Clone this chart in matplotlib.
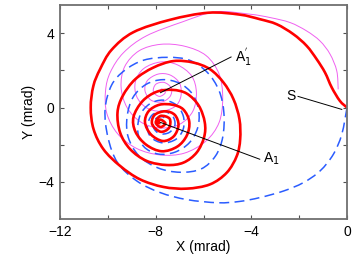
import numpy as np
import matplotlib
matplotlib.use("Agg")
import matplotlib.pyplot as plt
from matplotlib.path import Path
from matplotlib.patches import PathPatch

plt.rcParams['font.family'] = ['Liberation Sans', 'DejaVu Sans']

# trajectory points (x, y in mrad)
red_x = [0.0, -0.3, -0.64, -0.92, -1.27, -1.69, -2.25, -2.94, -3.64, -4.5, -5.8, -7.4,
         -8.94, -9.85, -10.33, -10.61, -10.72, -10.6, -10.19, -9.49, -8.66, -7.68, -6.7,
         -5.73, -5.03, -4.61, -4.47, -4.5, -4.75, -5.17, -5.73, -6.43, -7.26,
         -8.1, -8.86, -9.38, -9.6, -9.49, -9.07, -8.38, -7.54, -6.84, -6.29, -5.98, -5.95,
         -6.2, -6.7, -7.3,
         -7.96, -8.55, -8.93, -8.85, -8.4, -7.75, -7.1, -6.7, -6.6, -6.85, -7.3, -7.85,
         -8.3, -8.45, -8.2, -7.7, -7.25, -7.05, -7.2, -7.6,
         -8.05, -8.15, -7.8, -7.45, -7.42, -7.8, -8.0, -7.8, -7.6, -7.8, -7.9, -7.8]
red_y = [0.0, 0.36, 1.08, 1.88, 2.6, 3.32, 3.95, 4.48, 4.75, 5.0, 5.1, 4.72,
         4.05, 3.1, 2.06, 1.16, 0.0, -1.17, -2.24, -3.14, -3.86, -4.27, -4.36,
         -4.13, -3.5, -2.6, -1.7, -0.63, 0.45, 1.35, 2.06, 2.42, 2.5,
         2.15, 1.52, 0.63, -0.27, -1.35, -2.24, -2.87, -3.09, -2.96, -2.42, -1.6, -0.8,
         0.1, 0.75, 0.95,
         0.85, 0.35, -0.5, -1.3, -2.0, -2.35, -2.1, -1.5, -0.75, -0.1, 0.15, 0.15,
         -0.2, -0.8, -1.45, -1.8, -1.55, -0.95, -0.4, -0.2,
         -0.4, -0.9, -1.3, -1.1, -0.6, -0.45, -0.8, -1.05, -0.85, -0.65, -0.8, -0.85]

blue_x = [0.0, -0.22, -0.57, -1.13, -1.83, -2.66, -3.64, -4.5, -5.4, -6.7, -7.82, -8.79,
          -9.6, -10.0, -10.12, -9.85, -9.3, -8.5, -7.5, -6.6, -5.85, -5.35, -5.15, -5.2,
          -5.5, -6.1, -6.98, -7.9,
          -8.7, -9.15, -9.2, -8.95, -8.4, -7.7, -7.0, -6.45, -6.2, -6.25, -6.6, -7.2, -7.9,
          -8.5, -8.75, -8.65, -8.25, -7.7, -7.15, -6.85, -6.85, -7.15, -7.7,
          -8.2, -8.35, -8.15, -7.7, -7.3, -7.2, -7.45, -7.85, -8.1, -8.0, -7.7, -7.55]
blue_y = [0.0, -1.44, -2.51, -3.41, -4.04, -4.49, -4.84, -5.05, -5.12, -4.95, -4.57, -3.95,
          -2.96, -1.6, -0.1, 1.2, 2.0, 2.55, 2.7, 2.55, 1.9, 0.9, -0.3, -1.6,
          -2.6, -3.3, -3.48, -3.25,
          -2.6, -1.6, -0.5, 0.55, 1.25, 1.5, 1.3, 0.7, -0.2, -1.1, -1.9, -2.4, -2.5,
          -2.1, -1.3, -0.4, 0.2, 0.4, 0.15, -0.45, -1.15, -1.7, -1.9,
          -1.6, -1.0, -0.4, -0.2, -0.45, -0.95, -1.35, -1.4, -1.05, -0.6, -0.5, -0.8]

mag_x = [-0.37, -0.43, -0.71, -1.13, -1.69, -2.38, -3.22, -4.06, -5.5, -6.9, -8.4, -9.35,
         -9.9, -10.1, -10.05, -9.6, -8.8, -7.8, -6.8, -5.9, -5.35, -5.2, -5.35, -5.9,
         -6.8, -7.8,
         -8.7, -9.3, -9.45, -9.2, -8.6, -7.8, -7.0, -6.45, -6.3, -6.5, -7.1, -7.8,
         -8.5, -8.85, -8.8, -8.4, -7.8, -7.2, -6.95, -7.0, -7.4, -7.9,
         -8.35, -8.45, -8.2, -7.75, -7.4, -7.35, -7.65, -8.0, -8.1, -7.85, -7.6, -7.75, -7.85]
mag_y = [0.98, 1.97, 2.87, 3.58, 4.12, 4.57, 4.84, 5.02, 5.15, 4.6, 3.85, 2.95,
         1.9, 0.9, -0.3, -1.4, -2.2, -2.55, -2.45, -1.8, -0.8, 0.5, 1.8, 2.8,
         3.3, 3.4,
         3.05, 2.2, 1.1, 0.0, -0.8, -1.1, -0.9, -0.2, 0.8, 1.7, 2.3, 2.45,
         2.1, 1.4, 0.6, 0.0, -0.2, 0.05, 0.6, 1.3, 1.75, 1.8,
         1.45, 0.9, 0.4, 0.3, 0.6, 1.05, 1.35, 1.25, 0.85, 0.6, 0.8, 1.0, 0.85]

a1 = (-7.8, -0.8)
a1p = (-7.8, 0.8)


def smooth_path(xs, ys):
    # Catmull-Rom handles, drawn by matplotlib as cubic Bezier segments
    p = np.column_stack([xs, ys])
    n = len(p)
    verts = [p[0]]
    codes = [Path.MOVETO]
    for i in range(n - 1):
        p0 = p[max(i - 1, 0)]
        p1 = p[i]
        p2 = p[i + 1]
        p3 = p[min(i + 2, n - 1)]
        verts += [p1 + (p2 - p0) / 6, p2 - (p3 - p1) / 6, p2]
        codes += [Path.CURVE4] * 3
    return Path(verts, codes)


fig = plt.figure(figsize=(3.6, 2.64), dpi=100)
ax = fig.add_axes([0.167, 0.17, 0.797, 0.81])

ax.add_patch(PathPatch(smooth_path(mag_x, mag_y), fill=False, color='#f060f0', lw=0.7))
ax.add_patch(PathPatch(smooth_path(blue_x, blue_y), fill=False, color='#2a5cff', lw=1.1,
                       linestyle=(0, (6.5, 3.5))))
ax.add_patch(PathPatch(smooth_path(red_x, red_y), fill=False, color='#ff0000', lw=1.9))

# labels with leader lines
ax.plot([a1p[0], -4.85], [a1p[1], 2.72], color='black', lw=0.7)
ax.text(-4.7, 2.72, "A$_1^{'}$", fontsize=10, va='center', ha='left')
ax.plot([a1[0], -3.65], [a1[1], -2.78], color='black', lw=0.7)
ax.text(-3.5, -2.78, "A$_1$", fontsize=10, va='center', ha='left')
ax.plot([-0.22, -2.05], [-0.1, 0.6], color='black', lw=0.7)
ax.text(-2.15, 0.6, "S", fontsize=10, va='center', ha='right')

ax.set_xlim(-12, 0)
ax.set_ylim(-6, 5.5)
ax.set_xticks(np.arange(-12, 1, 2))
ax.set_xticklabels(['\u221212', '', '\u22128', '', '\u22124', '', '0'])
ax.set_yticks([-4, -2, 0, 2, 4])
ax.set_yticklabels(['\u22124', '', '0', '', '4'])
ax.tick_params(direction='in', length=3, width=0.8, top=True, right=True,
               labelsize=10, pad=4, color='#505050')
for sp in ax.spines.values():
    sp.set_color('#707070')
    sp.set_linewidth(1.3)

ax.set_xlabel('X (mrad)', fontsize=10, labelpad=1)
ax.set_ylabel('Y (mrad)', fontsize=10, labelpad=2)

fig.savefig('out.png', dpi=100)
